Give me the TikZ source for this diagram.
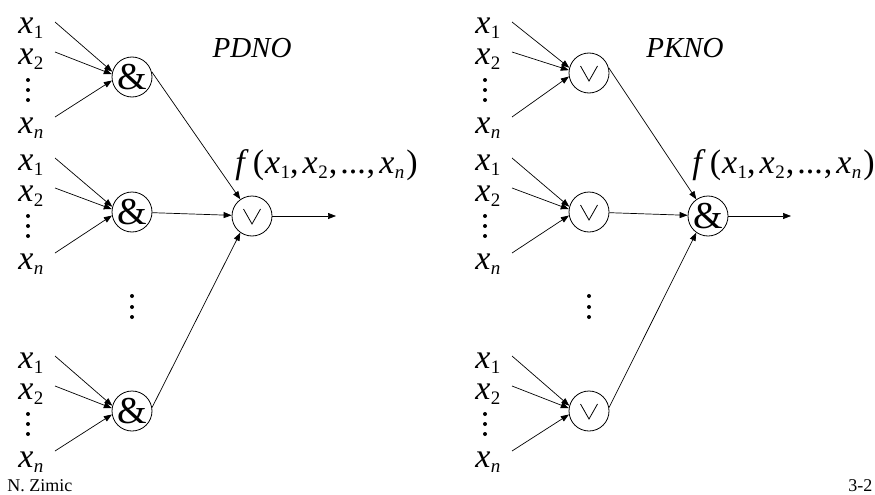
\documentclass[tikz,border=0pt]{standalone}
\usepackage{fontspec}
\setmainfont{Liberation Serif}
\usetikzlibrary{arrows.meta}

% variable x with a lowered subscript
\newcommand\varx[1]{\textit{x}\kern0.5pt\raisebox{-5pt}{\fontsize{19}{19}\selectfont #1}}

% one column of inputs x_1, x_2, ..., x_n feeding a gate
% #1 name prefix, #2 dx, #3 dy, #4 gate style, #5 gate text, #6 gate y
\newcommand\inputcolumn[6]{%
\begin{scope}[shift={(#2,#3)}]
  \node[lbl] (#1l1) at (18,34) {\varx{1}};
  \node[lbl] (#1l2) at (18,65) {\varx{2}};
  \node[lbl] (#1ln) at (18,133) {\varx{\textit{n}}};
  \fill (28,80) circle (2) (28,90) circle (2) (28,100) circle (2);
  \node[#4] (#1g) at (132,#6) {#5};
  \coordinate (#1s1) at (55,22);
  \coordinate (#1s2) at (55,52);
  \coordinate (#1sn) at (55,117);
  \draw[conn] (#1s1) -- (#1g.165);
  \draw[conn] (#1s2) -- (#1g.172);
  \draw[conn] (#1sn) -- (#1g.190);
\end{scope}}

\begin{document}
\begin{tikzpicture}[x=1pt,y=-1pt,line width=0.8pt,
  lbl/.style={anchor=base west,inner sep=0pt,font=\fontsize{34}{40}\selectfont},
  gate/.style={circle,draw,minimum size=40pt,inner sep=0pt,line width=0.8pt},
  andgate/.style={gate,font=\fontsize{38}{38}\selectfont},
  orgate/.style={gate,path picture={\draw[line width=0.8pt]
      ([shift={(-8.5pt,7pt)}]path picture bounding box.center) --
      ([shift={(0pt,-8pt)}]path picture bounding box.center) --
      ([shift={(8.5pt,7pt)}]path picture bounding box.center);}},
  conn/.style={-{Triangle[length=8pt,width=6pt]},line width=0.7pt},
  title/.style={font=\fontsize{29}{34}\selectfont\itshape,inner sep=0pt},
  foot/.style={anchor=base west,inner sep=0pt,font=\fontsize{18}{20}\selectfont}]
\useasboundingbox (0,0) rectangle (875,495);

% ---------- disjunctive form (PDNO) ----------
\inputcolumn{La}{0}{0}{andgate}{\&}{77}
\inputcolumn{Lb}{0}{136}{andgate}{\&}{76}
\inputcolumn{Lc}{0}{334}{andgate}{\&}{77}
\fill (132,296) circle (2) (132,307) circle (2) (132,317) circle (2);
\node[orgate] (Lm) at (252,216) {};
\coordinate (Lout) at (336,216);
\draw[conn] (Lag.15) -- (Lm.125);
\draw[conn] (Lbg) -- (Lm);
\draw[conn] (Lcg.10) -- (Lm.235);
\draw[conn] (Lm.east) -- (Lout);
\node[title] (Lt) at (252,48) {PDNO};
\node[lbl] (Lf) at (235,173) {\textit{f}\hspace{4pt}(\hspace{1pt}\varx{1},\hspace{4pt}\varx{2}\hspace{1pt},\hspace{3pt}...\hspace{1pt},\hspace{4pt}\varx{\textit{n}}\hspace{2pt})};

% ---------- conjunctive form (PKNO) ----------
\inputcolumn{Ra}{457}{0}{orgate}{}{73}
\inputcolumn{Rb}{457}{136}{orgate}{}{76}
\inputcolumn{Rc}{457}{334}{orgate}{}{77}
\fill (589,296) circle (2) (589,307) circle (2) (589,317) circle (2);
\node[andgate] (Rm) at (708,216) {\&};
\coordinate (Rout) at (791,216);
\draw[conn] (Rag.15) -- (Rm.125);
\draw[conn] (Rbg) -- (Rm);
\draw[conn] (Rcg.10) -- (Rm.235);
\draw[conn] (Rm.east) -- (Rout);
\node[title] (Rt) at (685,48) {PKNO};
\node[lbl] (Rf) at (692,173) {\textit{f}\hspace{4pt}(\hspace{1pt}\varx{1},\hspace{4pt}\varx{2}\hspace{1pt},\hspace{3pt}...\hspace{1pt},\hspace{4pt}\varx{\textit{n}}\hspace{2pt})};

% ---------- footer ----------
\node[foot] (author) at (7,491) {N. Zimic};
\node[foot] (page) at (848,491) {3-2};
\end{tikzpicture}
\end{document}
